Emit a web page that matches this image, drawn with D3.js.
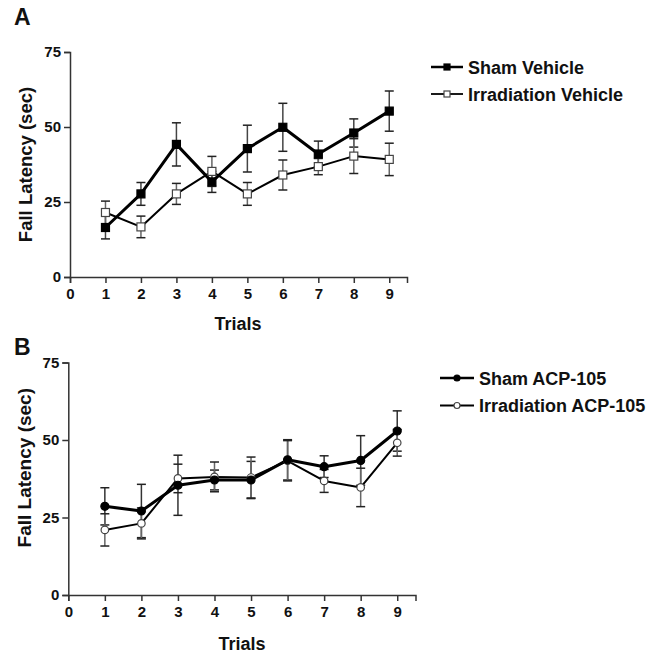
<!DOCTYPE html>
<html>
<head>
<meta charset="utf-8">
<script src="https://cdn.jsdelivr.net/npm/d3@7/dist/d3.min.js"></script>
<style>
  body { margin: 0; background: #fff; }
  svg { display: block; }
  text { font-family: "Liberation Sans", Arial, Helvetica, sans-serif; font-weight: bold; fill: #111; }
</style>
</head>
<body>
<svg id="chart" width="664" height="658"></svg>
<script>
// ---------- data ----------
const trials = [1, 2, 3, 4, 5, 6, 7, 8, 9];
const xTicks = [0, 1, 2, 3, 4, 5, 6, 7, 8, 9];
const yTicks = [0, 25, 50, 75];

const shamVehicle     = [16.5, 27.7, 44.2, 31.7, 42.8, 49.9, 41.0, 48.0, 55.3];
const shamVehicleSem  = [3.8, 3.8, 7.2, 3.5, 7.8, 8.0, 4.3, 4.7, 6.7];
const irrVehicle      = [21.5, 16.7, 27.7, 35.2, 27.7, 34.0, 36.8, 40.3, 39.2];
const irrVehicleSem   = [3.8, 3.6, 3.5, 5.0, 3.8, 5.0, 2.7, 5.8, 5.4];

const shamACP         = [28.6, 27.1, 35.4, 37.1, 37.1, 43.6, 41.4, 43.4, 52.9];
const shamACPSem      = [6.0, 8.6, 9.7, 3.2, 6.0, 6.5, 3.5, 8.0, 6.5];
const irrACP          = [21.0, 23.1, 37.6, 38.1, 37.9, 43.3, 36.8, 34.7, 49.1];
const irrACPSem       = [5.2, 5.0, 4.6, 4.8, 6.6, 6.5, 3.7, 6.2, 4.3];

const svg = d3.select("#chart");

function drawPanel(cfg) {
  const g = svg.append("g");
  const x = d3.scaleLinear().domain([0, 9.5]).range([cfg.x0, cfg.x1]);
  const y = d3.scaleLinear().domain([0, 75]).range([cfg.y0, cfg.y1]);

  const xAxis = d3.axisBottom(x).tickValues(xTicks).tickSize(6).tickPadding(5).tickFormat(d3.format("d"));
  const yAxis = d3.axisLeft(y).tickValues(yTicks).tickSize(6).tickPadding(3);
  const gx = g.append("g").attr("transform", `translate(0,${cfg.y0})`).call(xAxis);
  const gy = g.append("g").attr("transform", `translate(${cfg.x0},0)`).call(yAxis);
  [gx, gy].forEach(a => {
    a.select(".domain").attr("stroke", "#333").attr("stroke-width", 1.5);
    a.selectAll(".tick line").attr("stroke", "#333").attr("stroke-width", 1.5);
    a.selectAll(".tick text").style("font-size", "15px").style("font-weight", "bold")
      .style("font-family", '"Liberation Sans", Arial, sans-serif').attr("fill", "#111");
  });

  g.append("text").attr("x", cfg.letterX).attr("y", cfg.letterY).style("font-size", "23px").text(cfg.letter);
  g.append("text")
    .attr("transform", `translate(${cfg.yTitleX},${(cfg.y0 + cfg.y1) / 2 + cfg.yTitleDy}) rotate(-90)`)
    .attr("text-anchor", "middle").style("font-size", cfg.titleSize + "px")
    .text("Fall Latency (sec)");
  g.append("text").attr("x", cfg.xTitleX).attr("y", cfg.xTitleY)
    .attr("text-anchor", "middle").style("font-size", "18px").text("Trials");

  const series = cfg.series;
  series.forEach(s => {
    const eb = g.append("g");
    trials.forEach((t, i) => {
      const cx = x(t), hi = y(s.values[i] + s.sem[i]), lo = y(s.values[i] - s.sem[i]);
      eb.append("line").attr("x1", cx).attr("x2", cx).attr("y1", hi).attr("y2", lo)
        .attr("stroke", s.errColor).attr("stroke-width", 1.5);
      [hi, lo].forEach(yy => eb.append("line").attr("x1", cx - 4.5).attr("x2", cx + 4.5)
        .attr("y1", yy).attr("y2", yy).attr("stroke", "#222").attr("stroke-width", 1.5));
    });
  });
  const line = d3.line().x((d, i) => x(trials[i])).y(d => y(d));
  series.slice().reverse().forEach(s => {
    g.append("path").datum(s.values).attr("d", line).attr("fill", "none")
      .attr("stroke", "#000").attr("stroke-width", s.lw).attr("stroke-linejoin", "round");
  });
  series.slice().reverse().forEach(s => {
    trials.forEach((t, i) => drawMarker(g, s.shape, x(t), y(s.values[i]), s.filled, s.size));
  });

  series.forEach((s, k) => {
    const ly = cfg.legY + k * cfg.legGap;
    g.append("line").attr("x1", cfg.legX0).attr("x2", cfg.legX1).attr("y1", ly).attr("y2", ly)
      .attr("stroke", "#000").attr("stroke-width", s.lw === 3 ? 2.5 : 1.8);
    drawMarker(g, s.shape, (cfg.legX0 + cfg.legX1) / 2, ly, s.filled, 6);
    g.append("text").attr("x", cfg.legX1 + 5).attr("y", ly + 6.5).style("font-size", "18px").text(s.name);
  });
}

function drawMarker(g, shape, cx, cy, filled, size) {
  if (shape === "square") {
    g.append("rect").attr("x", cx - size / 2).attr("y", cy - size / 2).attr("width", size).attr("height", size)
      .attr("fill", filled ? "#000" : "#fff").attr("stroke", filled ? "#000" : "#444").attr("stroke-width", 1.2);
  } else {
    g.append("circle").attr("cx", cx).attr("cy", cy).attr("r", size / 2)
      .attr("fill", filled ? "#000" : "#fff").attr("stroke", filled ? "#000" : "#444").attr("stroke-width", 1.2);
  }
}

drawPanel({
  x0: 70, x1: 407, y0: 277, y1: 52,
  letter: "A", letterX: 14, letterY: 25,
  yTitleX: 32, yTitleDy: 0, titleSize: 18.5,
  xTitleX: 238, xTitleY: 330,
  legX0: 431, legX1: 463, legY: 67, legGap: 27,
  series: [
    { name: "Sham Vehicle", values: shamVehicle, sem: shamVehicleSem, shape: "square", filled: true, lw: 3, size: 8, errColor: "#444" },
    { name: "Irradiation Vehicle", values: irrVehicle, sem: irrVehicleSem, shape: "square", filled: false, lw: 2, size: 8, errColor: "#666" }
  ]
});

drawPanel({
  x0: 68.3, x1: 415.5, y0: 595, y1: 362.5,
  letter: "B", letterX: 14, letterY: 355,
  yTitleX: 31, yTitleDy: -11, titleSize: 19,
  xTitleX: 242, xTitleY: 650,
  legX0: 440, legX1: 474, legY: 378, legGap: 27.5,
  series: [
    { name: "Sham ACP-105", values: shamACP, sem: shamACPSem, shape: "circle", filled: true, lw: 3, size: 8, errColor: "#333" },
    { name: "Irradiation ACP-105", values: irrACP, sem: irrACPSem, shape: "circle", filled: false, lw: 2, size: 7.5, errColor: "#666" }
  ]
});
</script>
</body>
</html>
